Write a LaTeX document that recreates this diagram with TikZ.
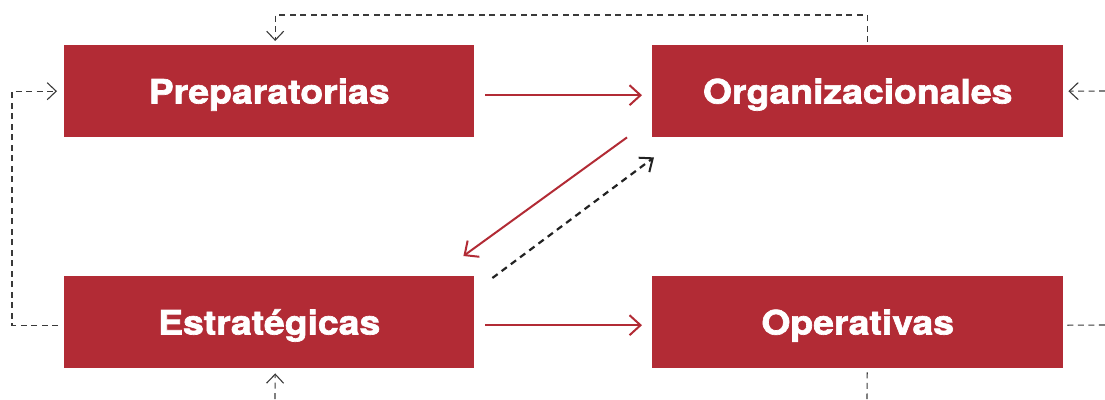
\documentclass[tikz,border=0pt]{standalone}
\usepackage{fontspec}
\usetikzlibrary{arrows.meta,calc}
\newfontfamily\boxfont{texgyreheros-bold.otf}[FakeStretch=1.115,FakeBold=2]
\definecolor{boxred}{HTML}{B22B35}
\definecolor{dgray}{HTML}{3A3A3A}
\definecolor{dblack}{HTML}{222222}
\begin{document}
\begin{tikzpicture}[x=1pt,y=-1pt,
  box/.style={fill=boxred, minimum width=410pt, minimum height=92pt, inner sep=0pt,
    text=white, text height=24.5pt, text depth=0pt,
    font=\boxfont\fontsize{33.5}{40}\selectfont, anchor=north west},
  redarrow/.style={draw=boxred, line width=2pt,
    -{Straight Barb[length=11pt,width=20pt,line width=2pt]}},
  blkarrow/.style={draw=dblack, line width=2.2pt, dash pattern=on 6.5pt off 5pt,
    -{Straight Barb[length=11pt,width=18pt,line width=2pt,sep=0pt]}},
  gd/.style={draw=dgray, line width=1.1pt, dash pattern=on 6pt off 4.5pt},
  gtip/.style={-{Straight Barb[length=9pt,width=17pt,line width=1.1pt]}}
]
\useasboundingbox (0,0) rectangle (1105,399);

\node[box] (prep) at (64,45) {Preparatorias};
\node[box,minimum width=411pt] (org) at (652,45) {Organizacionales};
\node[box] (estr) at (64,276) {Estratégicas};
\node[box,minimum width=411pt] (oper) at (652,276) {Operativas};

% free ends at the picture's edges
\coordinate (rtop) at (1105,91);
\coordinate (rbot) at (1105,325);
\coordinate (bot) at (867,399);
\coordinate (botl) at (275,399);

% red arrows
\draw[redarrow] ($(prep.east)+(11,4)$) -- ($(org.west)+(-10,4)$);
\draw[redarrow] ($(estr.east)+(11,3)$) -- ($(oper.west)+(-10,3)$);
\draw[redarrow] ($(org.south west)+(-25,0)$) -- ($(estr.north east)+(-11,-20)$);
% dashed black diagonal
\draw[blkarrow] ($(estr.north east)+(18,2)$) -- ($(org.south west)+(2,20)$);

% grey dashed loops
\draw[gd,gtip] ($(org.north)+(9.5,-3)$) |- ($(prep.north)+(6,-30)$) -- ($(prep.north)+(6,-4)$);
\draw[gd,gtip] ($(estr.west)+(-6,3)$) -- ++(-46,0) |- ($(prep.west)+(-7,0)$);
\draw[gd,gtip] (rtop) -- ($(org.east)+(5,0)$);
\draw[gd] ($(oper.east)+(4,3)$) -- (rbot);
\draw[gd] ($(oper.south)+(9.5,4)$) -- (bot);
\draw[gd,gtip] (botl) -- ($(estr.south)+(6,5)$);
\end{tikzpicture}
\end{document}
